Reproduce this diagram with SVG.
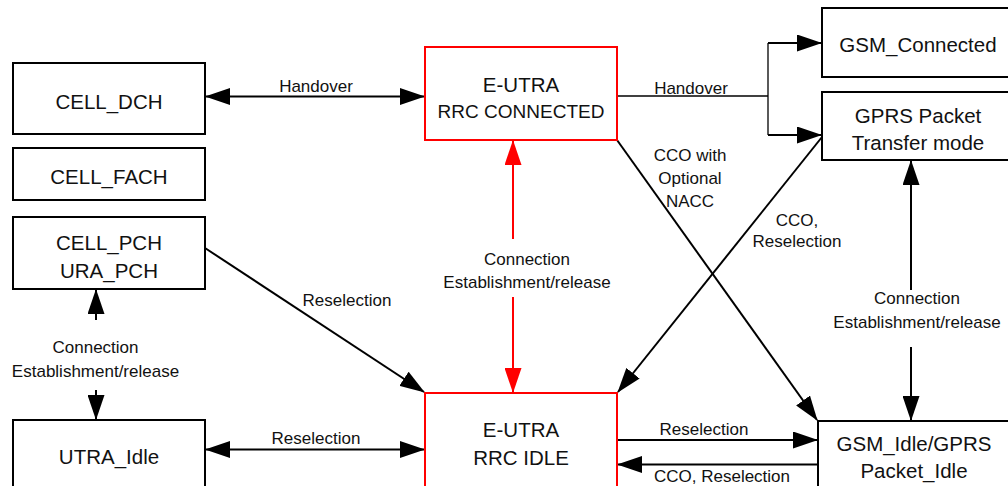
<svg xmlns="http://www.w3.org/2000/svg" width="1008" height="486" viewBox="0 0 1008 486">
<style>
.box{fill:#fff;stroke:#000;stroke-width:2}
.red{fill:#fff;stroke:#f00;stroke-width:2}
.bt{font-family:"Liberation Sans",Arial,sans-serif;font-size:20.5px;fill:#111;text-anchor:middle}
.lt{font-family:"Liberation Sans",Arial,sans-serif;font-size:17px;fill:#111;text-anchor:middle}
.c{fill:none;stroke:#000;stroke-width:2}
.thin{fill:none;stroke:#000;stroke-width:1.3}
.cr{fill:none;stroke:#f00;stroke-width:2}
</style>
<defs>
<marker id="ah" viewBox="0 0 25 17" refX="24" refY="8.5" markerWidth="25" markerHeight="17" markerUnits="userSpaceOnUse" orient="auto-start-reverse"><path d="M0,0 L25,8.5 L0,17 z" fill="#000"/></marker>
<marker id="ahr" viewBox="0 0 25 17" refX="24" refY="8.5" markerWidth="25" markerHeight="17" markerUnits="userSpaceOnUse" orient="auto-start-reverse"><path d="M0,0 L25,8.5 L0,17 z" fill="#f00"/></marker>
</defs>
<rect width="1008" height="486" fill="#fff"/>
<g id="connectors">
<line class="c" x1="206" y1="96.5" x2="424" y2="96.5" marker-start="url(#ah)" marker-end="url(#ah)"/>
<text class="lt" x="316" y="92">Handover</text>
<polyline class="thin" points="617,96 768,96"/>
<polyline class="thin" points="768,43 768,135"/>
<line class="c" x1="768" y1="43" x2="821" y2="43" marker-end="url(#ah)"/>
<line class="c" x1="768" y1="135" x2="821" y2="135" marker-end="url(#ah)"/>
<text class="lt" x="691" y="93.5">Handover</text>
<line class="c" x1="617" y1="140" x2="817" y2="420" marker-end="url(#ah)"/>
<text class="lt" x="690" y="160.5">CCO with</text>
<text class="lt" x="690" y="183.5">Optional</text>
<text class="lt" x="690" y="206.5">NACC</text>
<line class="c" x1="822" y1="137" x2="618" y2="392" marker-end="url(#ah)"/>
<text class="lt" x="797" y="226">CCO,</text>
<text class="lt" x="797" y="247">Reselection</text>
<line class="c" x1="911" y1="290" x2="911" y2="161" marker-end="url(#ah)"/>
<line class="c" x1="911" y1="347" x2="911" y2="420" marker-end="url(#ah)"/>
<text class="lt" x="917" y="304">Connection</text>
<text class="lt" x="917" y="327.5">Establishment/release</text>
<line class="cr" x1="513" y1="239" x2="513" y2="141" marker-end="url(#ahr)"/>
<line class="cr" x1="513" y1="297" x2="513" y2="392" marker-end="url(#ahr)"/>
<text class="lt" x="527" y="265">Connection</text>
<text class="lt" x="527" y="288">Establishment/release</text>
<line class="c" x1="205" y1="248" x2="424" y2="392" marker-end="url(#ah)"/>
<text class="lt" x="347" y="306">Reselection</text>
<line class="c" x1="96" y1="320" x2="96" y2="290" marker-end="url(#ah)"/>
<line class="c" x1="96" y1="390" x2="96" y2="419" marker-end="url(#ah)"/>
<text class="lt" x="95.5" y="353">Connection</text>
<text class="lt" x="95.5" y="377">Establishment/release</text>
<line class="c" x1="206" y1="449.5" x2="424" y2="449.5" marker-start="url(#ah)" marker-end="url(#ah)"/>
<text class="lt" x="316" y="444">Reselection</text>
<line class="c" x1="617" y1="440" x2="817" y2="440" marker-end="url(#ah)"/>
<text class="lt" x="704" y="435">Reselection</text>
<line class="c" x1="818" y1="464.5" x2="618" y2="464.5" marker-end="url(#ah)"/>
<text class="lt" x="722" y="482">CCO, Reselection</text>
</g>
<g id="cell_dch"><rect class="box" x="13" y="63" width="192" height="71"/><text class="bt" x="109" y="109">CELL_DCH</text></g>
<g id="cell_fach"><rect class="box" x="13" y="148" width="192" height="52"/><text class="bt" x="109" y="184">CELL_FACH</text></g>
<g id="cell_pch"><rect class="box" x="13" y="217" width="192" height="72"/><text class="bt" x="109" y="249.5">CELL_PCH</text><text class="bt" x="109" y="277.5">URA_PCH</text></g>
<g id="utra_idle"><rect class="box" x="13" y="420" width="192" height="93"/><text class="bt" x="109" y="464">UTRA_Idle</text></g>
<g id="eutra_connected"><rect class="red" x="425" y="47" width="192" height="93"/><text class="bt" x="521" y="91.5">E-UTRA</text><text class="bt" x="521" y="117.5" style="font-size:19px">RRC CONNECTED</text></g>
<g id="eutra_idle"><rect class="red" x="425" y="393" width="192" height="95"/><text class="bt" x="521" y="436.5">E-UTRA</text><text class="bt" x="521" y="464.5">RRC IDLE</text></g>
<g id="gsm_connected"><rect class="box" x="822" y="8" width="192" height="69"/><text class="bt" x="918" y="51.5">GSM_Connected</text></g>
<g id="gprs_transfer"><rect class="box" x="822" y="92" width="192" height="68"/><text class="bt" x="918" y="122.5">GPRS Packet</text><text class="bt" x="918" y="150">Transfer mode</text></g>
<g id="gsm_idle"><rect class="box" x="818" y="421" width="192" height="93"/><text class="bt" x="914" y="450.5">GSM_Idle/GPRS</text><text class="bt" x="914" y="478">Packet_Idle</text></g>
</svg>
